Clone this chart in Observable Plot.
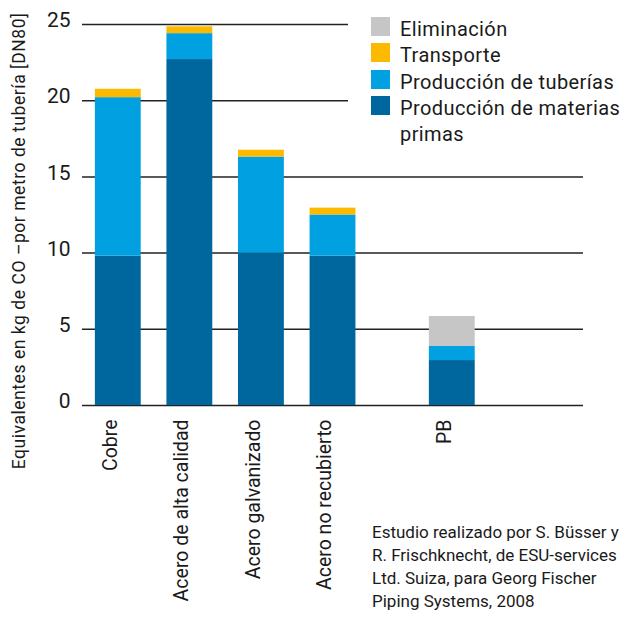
<!DOCTYPE html>
<html><head><meta charset="utf-8">
<script src="https://cdn.jsdelivr.net/npm/d3@7"></script>
<script src="https://cdn.jsdelivr.net/npm/@observablehq/plot@0.6"></script>
<style>
body{margin:0;background:#fff;font-family:Roboto,sans-serif;color:#1a1a1a;}
#wrap{position:relative;width:637px;height:618px;overflow:hidden;}
#legend{position:absolute;left:348px;top:8px;width:289px;height:140px;background:#fff;}
.row{position:absolute;left:23px;width:266px;font-size:20px;letter-spacing:0.4px;line-height:26.3px;}
.sw{position:absolute;left:0;top:1px;width:19px;height:19px;}
.lt{position:absolute;left:29px;width:237px;}
#ytitle{position:absolute;left:19px;top:241px;transform:translate(-50%,-50%) rotate(-90deg);white-space:nowrap;font-size:17.5px;letter-spacing:0.55px;}
#caption{position:absolute;left:372px;top:521px;font-size:17px;line-height:23px;white-space:nowrap;}
</style></head><body><div id="wrap"></div>
<script>
const categories = ["Cobre", "Acero de alta calidad", "Acero galvanizado", "Acero no recubierto", "PB"];
const series = ["Producción de materias primas", "Producción de tuberías", "Transporte", "Eliminación"];
const materiasPrimas = [9.8, 22.7, 10.0, 9.8, 2.95];
const tuberias = [10.4, 1.7, 6.3, 2.7, 0.92];
const transporte = [0.55, 0.45, 0.45, 0.45, 0];
const eliminacion = [0, 0, 0, 0, 1.97];
const yTicks = [0, 5, 10, 15, 20, 25];
const colors = ["#00679e", "#00a0e1", "#fbb900", "#c6c6c6"];
const yTitle = "Equivalentes en kg de CO –por metro de tubería [DN80]";
const caption = ["Estudio realizado por S. Büsser y", "R. Frischknecht, de ESU-services", "Ltd. Suiza, para Georg Fischer", "Piping Systems, 2008"];

const valuesBySeries = [materiasPrimas, tuberias, transporte, eliminacion];
const tidy = [];
series.forEach((s, si) => categories.forEach((c, ci) => {
  const v = valuesBySeries[si][ci];
  if (v > 0) tidy.push({cat: c, series: s, value: v});
}));

// band slots (thirds of a step) so the PB bar sits after a gap
const nSlots = 21;
const slotIndex = categories.map((c, i) => i < 4 ? 1 + 3 * i : 15);
const domain = Array.from({length: nSlots}, (_, k) => {
  const i = slotIndex.indexOf(k);
  return i >= 0 ? categories[i] : "\u200b".repeat(k + 1);
});

const chart = Plot.plot({
  width: 637, height: 618,
  marginLeft: 82, marginRight: 54, marginTop: 24, marginBottom: 213,
  style: {fontFamily: "Roboto, sans-serif", color: "#1a1a1a", background: "#fff"},
  x: {type: "band", domain, paddingInner: 0, paddingOuter: 0, round: false},
  y: {domain: [0, 25]},
  color: {domain: series, range: colors},
  marks: [
    Plot.ruleY(yTicks, {stroke: "#222", strokeWidth: 1.5}),
    Plot.barY(tidy, {x: "cat", y: "value", fill: "series", order: series, insetLeft: -11, insetRight: -11}),
    Plot.axisY({ticks: yTicks, tickSize: 0, tickPadding: 12, fontSize: 21, dy: -4, label: null}),
    Plot.axisX({tickRotate: -90, tickSize: 0, tickPadding: 14, fontSize: 19.5, dx: -8, label: null,
      tickFormat: d => categories.includes(d) ? d : ""})
  ]
});
const wrap = document.getElementById("wrap");
wrap.appendChild(chart);

const legend = document.createElement("div");
legend.id = "legend";
[...series].reverse().forEach((s, i) => {
  const row = document.createElement("div");
  row.className = "row";
  row.style.top = (8 + i * 26.3) + "px";
  const sw = document.createElement("div");
  sw.className = "sw";
  sw.style.background = colors[series.indexOf(s)];
  const lt = document.createElement("div");
  lt.className = "lt";
  lt.textContent = s;
  row.appendChild(sw); row.appendChild(lt);
  legend.appendChild(row);
});
wrap.appendChild(legend);

const yt = document.createElement("div");
yt.id = "ytitle"; yt.textContent = yTitle;
wrap.appendChild(yt);

const cap = document.createElement("div");
cap.id = "caption";
cap.innerHTML = caption.join("<br>");
wrap.appendChild(cap);
</script>
</body></html>
